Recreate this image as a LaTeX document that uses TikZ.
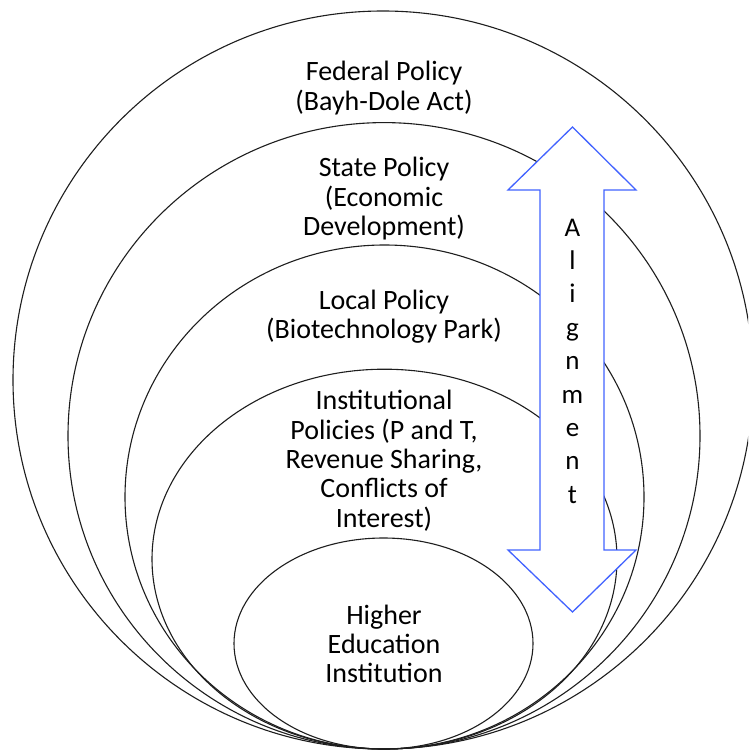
\documentclass[tikz,border=0pt]{standalone}
\usepackage{fontspec}
\setmainfont{Carlito}
\usetikzlibrary{shapes.geometric}
\definecolor{aligblue}{RGB}{66,99,255}
\definecolor{ringline}{RGB}{30,30,30}
\tikzset{
  ring/.style={ellipse, draw=ringline, line width=1.1pt, inner sep=0pt, outer sep=0pt},
  label/.style={anchor=north, inner sep=0pt, align=center, font=\fontsize{28}{29.4}\selectfont},
  alig/.style={anchor=north, inner sep=0pt, align=center, font=\fontsize{27}{33.4}\selectfont},
  bigarrow/.style={draw=aligblue, fill=white, line width=1.3pt, line join=miter}
}
\begin{document}
\begin{tikzpicture}[x=1pt,y=-1pt]
\clip (0,0) rectangle (748,751);
\fill[white] (0,0) rectangle (748,751);
% nested policy rings, all touching at the bottom
\node[ring, minimum width=740pt, minimum height=738pt]   (federal) at (383,380) {};
\node[ring, minimum width=632pt, minimum height=626.4pt] (state)   at (384,435.8) {};
\node[ring, minimum width=519pt, minimum height=504pt]   (local)   at (384.5,497) {};
\node[ring, minimum width=465pt, minimum height=379.8pt] (inst)    at (384.5,559.1) {};
\node[ring, minimum width=299pt, minimum height=211pt]   (hei)     at (383.5,643.5) {};
% alignment double arrow
\coordinate (tipT) at (572.5,127);
\coordinate (tipB) at (572.5,612);
\draw[bigarrow] (tipT) -- (636,190) -- (604,190) -- (604,550) -- (636,550) -- (tipB)
  -- (508,550) -- (540,550) -- (540,190) -- (508,190) -- cycle;
% texts
\node[label] (tfed) at (384,61) {Federal Policy\\(Bayh-Dole Act)};
\node[label] (tstate) at (384,157) {State Policy\\(Economic\\Development)};
\node[label] (tlocal) at (384,289.5) {Local Policy\\(Biotechnology Park)};
\node[label] (tinst) at (384,390) {Institutional\\Policies (P and T,\\Revenue Sharing,\\Conflicts of\\Interest)};
\node[label] (thei) at (384,604.5) {Higher\\Education\\Institution};
\node[alig] (talig) at (572.5,218.5) {A\\l\\i\\g\\n\\m\\e\\n\\t};
\end{tikzpicture}
\end{document}
